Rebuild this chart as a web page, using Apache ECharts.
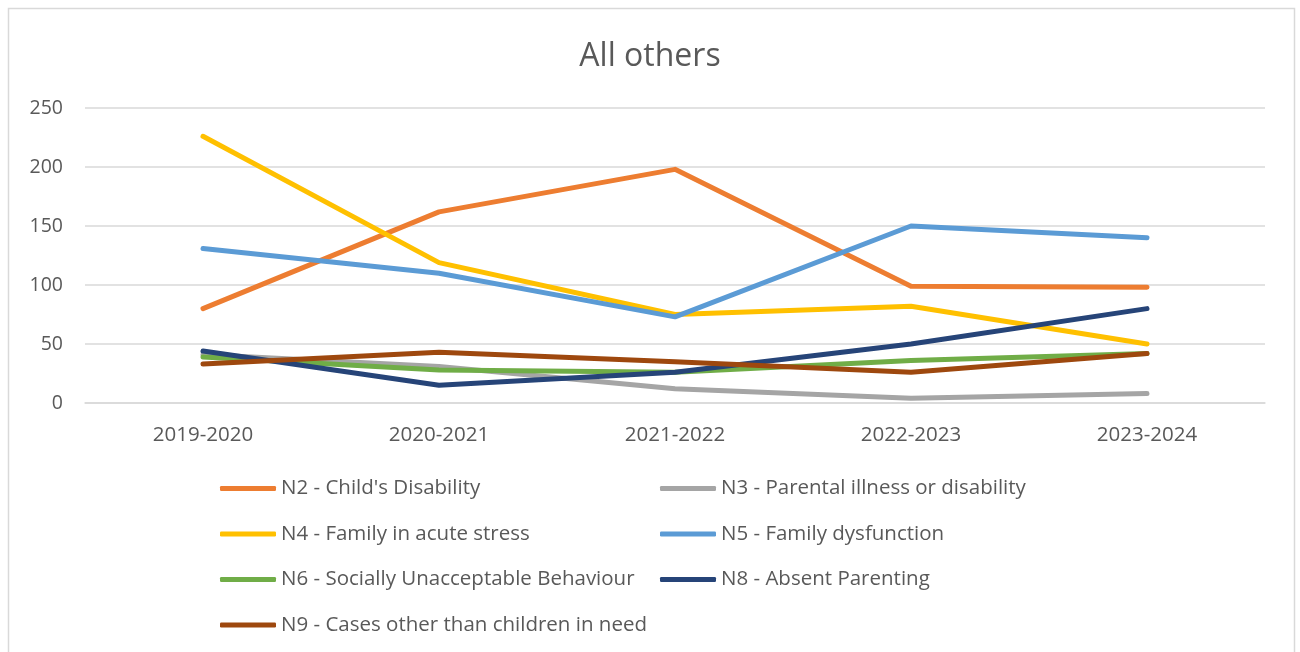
<!DOCTYPE html>
<html>
<head>
<meta charset="utf-8">
<script src="https://cdn.jsdelivr.net/npm/echarts@6/dist/echarts.min.js"></script>
<style>html,body{margin:0;padding:0;background:#fff;}#c{width:1300px;height:652px;}</style>
</head>
<body>
<div id="c"></div>
<script>
const categories = ['2019-2020', '2020-2021', '2021-2022', '2022-2023', '2023-2024'];
const n2 = [80, 162, 198, 99, 98];
const n3 = [41, 31, 12, 4, 8];
const n4 = [226, 119, 75, 82, 50];
const n5 = [131, 110, 73, 150, 140];
const n6 = [39, 28, 26, 36, 42];
const n8 = [44, 15, 26, 50, 80];
const n9 = [33, 43, 35, 26, 42];
const yTicks = [0, 50, 100, 150, 200, 250];

const names = {
  n2: "N2 - Child's Disability",
  n3: 'N3 - Parental illness or disability',
  n4: 'N4 - Family in acute stress',
  n5: 'N5 - Family dysfunction',
  n6: 'N6 - Socially Unacceptable Behaviour',
  n8: 'N8 - Absent Parenting',
  n9: 'N9 - Cases other than children in need'
};
const colors = {n2:'#ED7D31', n3:'#A5A5A5', n4:'#FFC000', n5:'#5B9BD5', n6:'#70AD47', n8:'#264478', n9:'#9E480E'};
const dataMap = {n2, n3, n4, n5, n6, n8, n9};
const order = ['n2','n3','n4','n5','n6','n8','n9'];
const FONT = 'Open Sans';
const textCol = '#595959';

const series = order.map(k => ({
  name: names[k],
  type: 'line',
  data: dataMap[k],
  symbol: 'none',
  showSymbol: false,
  lineStyle: {width: 5, color: colors[k], cap: 'round', join: 'round'},
  itemStyle: {color: colors[k]},
  emphasis: {disabled: true},
  animation: false
}));

const legendCommon = {
  orient: 'vertical',
  padding: 0,
  icon: 'roundRect',
  itemWidth: 56,
  itemHeight: 5,
  itemGap: 24.5,
  textStyle: {fontFamily: FONT, fontSize: 20.5, color: textCol, lineHeight: 20},
  selectedMode: false
};

const chart = echarts.init(document.getElementById('c'), null, {renderer: 'canvas'});
chart.setOption({
  backgroundColor: '#fff',
  animation: false,
  title: {
    text: 'All others',
    left: 'center',
    top: 36,
    textStyle: {fontFamily: FONT, fontSize: 32, fontWeight: 'normal', color: textCol}
  },
  grid: {left: 85, right: 35, top: 108, height: 295},
  xAxis: {
    type: 'category',
    data: categories,
    boundaryGap: true,
    axisLine: {show: true, lineStyle: {color: '#D9D9D9', width: 1.5}},
    axisTick: {show: false},
    axisLabel: {fontFamily: FONT, fontSize: 20.5, color: textCol, margin: 22}
  },
  yAxis: {
    type: 'value',
    min: yTicks[0],
    max: yTicks[yTicks.length - 1],
    interval: 50,
    axisLine: {show: false},
    axisTick: {show: false},
    splitLine: {lineStyle: {color: '#D9D9D9', width: 1.5}},
    axisLabel: {fontFamily: FONT, fontSize: 19.5, color: textCol, margin: 22}
  },
  legend: [
    Object.assign({left: 220, top: 478, data: [names.n2, names.n4, names.n6, names.n9]}, legendCommon),
    Object.assign({left: 660, top: 478, data: [names.n3, names.n5, names.n8]}, legendCommon)
  ],
  graphic: [{
    type: 'rect',
    shape: {x: 8.5, y: 8.5, width: 1286, height: 700},
    style: {fill: 'none', stroke: '#D9D9D9', lineWidth: 1.5},
    silent: true
  }],
  series: series
});
</script>
</body>
</html>
